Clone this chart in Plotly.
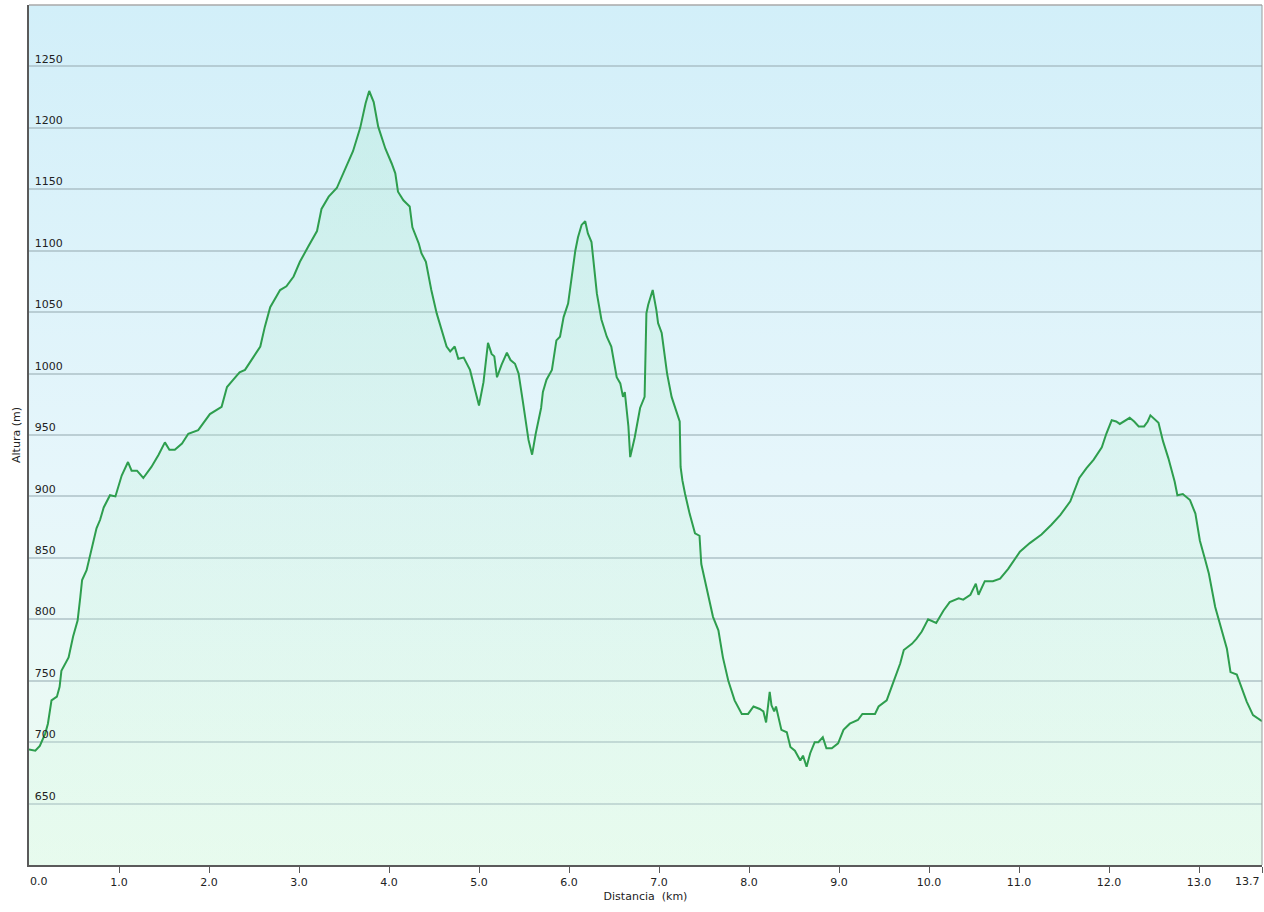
import base64
import plotly.graph_objects as go

# ---- data ----
distance_km = [
    0.00, 0.07, 0.12, 0.18, 0.21, 0.25, 0.31, 0.34, 0.36, 0.44, 0.49, 0.54, 0.57, 0.59, 0.64, 0.70,
    0.75, 0.79, 0.83, 0.90, 0.96, 1.03, 1.10, 1.14, 1.20, 1.27, 1.36, 1.44, 1.51, 1.56, 1.62, 1.70,
    1.77, 1.88, 2.01, 2.14, 2.20, 2.27, 2.34, 2.40, 2.47, 2.57, 2.62, 2.68, 2.79, 2.86, 2.94, 3.01,
    3.10, 3.20, 3.25, 3.33, 3.42, 3.49, 3.60, 3.68, 3.74, 3.78, 3.83, 3.88, 3.96, 4.03, 4.07, 4.10,
    4.16, 4.23, 4.26, 4.33, 4.36, 4.41, 4.47, 4.53, 4.59, 4.64, 4.68, 4.73, 4.77, 4.83, 4.90, 4.96,
    5.00, 5.05, 5.10, 5.14, 5.17, 5.20, 5.25, 5.31, 5.35, 5.40, 5.44, 5.49, 5.55, 5.59, 5.63, 5.69,
    5.71, 5.75, 5.81, 5.86, 5.90, 5.94, 5.99, 6.07, 6.10, 6.14, 6.18, 6.21, 6.25, 6.31, 6.36, 6.42,
    6.47, 6.53, 6.57, 6.60, 6.62, 6.66, 6.68, 6.73, 6.79, 6.84, 6.86, 6.88, 6.93, 6.97, 6.99, 7.03,
    7.09, 7.14, 7.20, 7.23, 7.24, 7.26, 7.29, 7.34, 7.40, 7.45, 7.47, 7.51, 7.60, 7.66, 7.71, 7.77,
    7.84, 7.92, 7.99, 8.05, 8.12, 8.16, 8.19, 8.23, 8.25, 8.28, 8.30, 8.36, 8.42, 8.46, 8.51, 8.57,
    8.60, 8.64, 8.68, 8.73, 8.77, 8.82, 8.86, 8.92, 8.99, 9.05, 9.12, 9.21, 9.26, 9.33, 9.40, 9.44,
    9.53, 9.60, 9.68, 9.72, 9.81, 9.86, 9.92, 9.99, 10.08, 10.16, 10.23, 10.33, 10.38, 10.46, 10.52,
    10.55, 10.62, 10.71, 10.79, 10.88, 11.01, 11.12, 11.25, 11.36, 11.46, 11.57, 11.62, 11.67, 11.75,
    11.83, 11.92, 11.97, 12.03, 12.08, 12.12, 12.18, 12.23, 12.28, 12.33, 12.39, 12.43, 12.46, 12.50,
    12.55, 12.60, 12.66, 12.73, 12.76, 12.82, 12.90, 12.96, 13.01, 13.07, 13.11, 13.18, 13.25, 13.31,
    13.35, 13.42, 13.47, 13.53, 13.60, 13.68, 13.70,
]
altitude_m = [
    694, 693, 697, 707, 715, 734, 737, 745, 758, 769, 786, 799, 818, 832, 840, 859,
    874, 881, 891, 901, 900, 917, 928, 921, 921, 915, 924, 934, 944, 938, 938, 943,
    951, 954, 967, 973, 989, 995, 1001, 1003, 1011, 1022, 1038, 1054, 1068, 1071, 1079, 1091,
    1103, 1116, 1134, 1144, 1151, 1163, 1181, 1200, 1220, 1230, 1221, 1201, 1183, 1171, 1163, 1148,
    1141, 1136, 1119, 1106, 1098, 1091, 1068, 1049, 1035, 1022, 1018, 1022, 1012, 1013, 1003, 986,
    974, 993, 1025, 1016, 1014, 997, 1007, 1017, 1011, 1008, 1000, 976, 946, 934, 951, 972,
    985, 995, 1003, 1027, 1030, 1046, 1057, 1100, 1111, 1121, 1124, 1114, 1107, 1065, 1044, 1030,
    1022, 997, 992, 981, 985, 957, 932, 948, 972, 981, 1049, 1056, 1068, 1052, 1041, 1033,
    1000, 981, 968, 961, 924, 913, 902, 886, 870, 868, 845, 832, 802, 791, 769, 750,
    734, 723, 723, 729, 727, 725, 716, 741, 730, 725, 729, 710, 708, 696, 693, 685,
    689, 680, 691, 700, 700, 704, 695, 695, 699, 710, 715, 718, 723, 723, 723, 729,
    734, 748, 764, 775, 780, 784, 790, 800, 797, 807, 814, 817, 816, 820, 829,
    820, 831, 831, 833, 841, 855, 862, 869, 877, 885, 896, 905, 915, 923,
    930, 940, 951, 962, 961, 959, 962, 964, 961, 957, 957, 961, 966, 963,
    960, 945, 931, 912, 901, 902, 897, 886, 864, 848, 837, 810, 791, 776,
    757, 755, 745, 733, 722, 718, 717,
]
x_tick_values = [0, 1, 2, 3, 4, 5, 6, 7, 8, 9, 10, 11, 12, 13, 13.7]
x_tick_labels = ["0.0", "1.0", "2.0", "3.0", "4.0", "5.0", "6.0", "7.0", "8.0", "9.0",
                 "10.0", "11.0", "12.0", "13.0", "13.7"]
y_tick_values = [650, 700, 750, 800, 850, 900, 950, 1000, 1050, 1100, 1150, 1200, 1250]
x_range = [0, 13.7]
y_range = [600, 1300]

# the two edge labels are written as annotations, nudged inward like the reference
x_tick_text = [""] + x_tick_labels[1:-1] + [""]
edge_annotations = [
    dict(x=x_tick_values[0], y=0, xref="x", yref="paper", text=x_tick_labels[0],
         showarrow=False, xanchor="left", yanchor="top", xshift=-1, yshift=-8,
         font=dict(size=11, color="#222222")),
    dict(x=x_tick_values[-1], y=0, xref="x", yref="paper", text=x_tick_labels[-1],
         showarrow=False, xanchor="right", yanchor="top", xshift=0, yshift=-8,
         font=dict(size=11, color="#222222")),
]

# ---- background gradient (sky blue to pale green) ----
svg = (
    '<svg xmlns="http://www.w3.org/2000/svg" width="100" height="100" preserveAspectRatio="none">'
    '<defs><linearGradient id="g" x1="0" y1="0" x2="0" y2="1">'
    '<stop offset="0" stop-color="#d2eff9"/>'
    '<stop offset="0.55" stop-color="#e6f6fb"/>'
    '<stop offset="1" stop-color="#edfcf1"/>'
    '</linearGradient></defs>'
    '<rect width="100" height="100" fill="url(#g)"/></svg>'
)
bg_uri = "data:image/svg+xml;base64," + base64.b64encode(svg.encode()).decode()

fig = go.Figure()
fig.add_trace(go.Scatter(
    x=distance_km, y=altitude_m, mode="lines",
    line=dict(color="#2e9e4e", width=2),
    fill="tozeroy",
    fillgradient=dict(
        type="vertical",
        start=y_range[0], stop=1240,
        colorscale=[[0, "rgba(215,248,228,0.25)"], [1, "rgba(160,230,195,0.25)"]],
    ),
    hoverinfo="x+y", showlegend=False,
))

fig.update_layout(
    width=1264, height=912,
    margin=dict(l=29, r=2, t=5, b=47),
    paper_bgcolor="white",
    plot_bgcolor="rgba(0,0,0,0)",
    font=dict(family="DejaVu Sans, Verdana, sans-serif", size=11, color="#222222"),
    images=[dict(source=bg_uri, xref="paper", yref="paper", x=0, y=1, sizex=1, sizey=1,
                 sizing="stretch", layer="below", xanchor="left", yanchor="top")],
    annotations=edge_annotations,
    shapes=[
        dict(type="line", xref="paper", yref="paper", x0=0, x1=1, y0=1, y1=1,
             line=dict(color="#a8a8a8", width=1.5)),
        dict(type="line", xref="paper", yref="paper", x0=1, x1=1, y0=0, y1=1,
             line=dict(color="#9a9a9a", width=1)),
    ],
)
fig.update_xaxes(
    range=x_range, tickvals=x_tick_values, ticktext=x_tick_text,
    automargin=False,
    showgrid=False, zeroline=False,
    showline=True, linecolor="#5a5a5a", linewidth=2,
    ticks="outside", ticklen=6, tickcolor="#5a5a5a", tickwidth=1,
    tickfont=dict(size=11, color="#222222"),
    title=dict(text="Distancia  (km)", font=dict(size=11, color="#222222"), standoff=4),
)
fig.update_yaxes(
    range=y_range, tickvals=y_tick_values,
    automargin=False,
    showgrid=True, gridcolor="rgba(160,180,186,0.6)", gridwidth=1.5,
    zeroline=False,
    showline=True, linecolor="#5a5a5a", linewidth=2,
    ticks="", ticklabelposition="inside top", ticklabelstandoff=4,
    tickfont=dict(size=11, color="#222222"),
    title=dict(text="Altura (m)", font=dict(size=11, color="#222222"), standoff=12),
)

fig.write_html("out.html", config={"displayModeBar": False},
               post_script="document.body.style.margin='0';")
